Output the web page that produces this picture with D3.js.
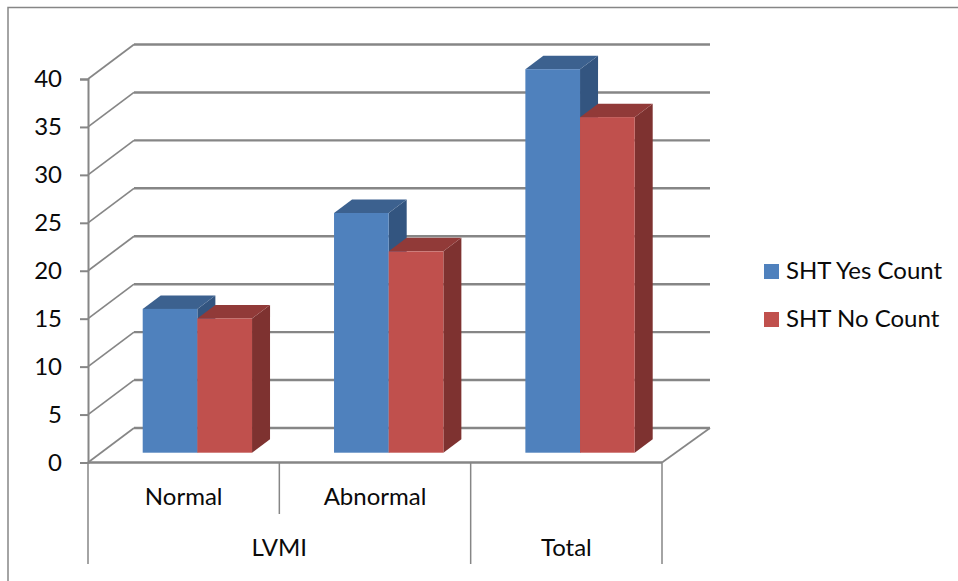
<!DOCTYPE html>
<html>
<head>
<meta charset="utf-8">
<script src="https://cdn.jsdelivr.net/npm/d3@7/dist/d3.min.js"></script>
<style>
  html, body { margin: 0; padding: 0; background: #fff; }
  svg { display: block; }
  text { font-family: Lato, "Open Sans", sans-serif; fill: #0a0a0a; }
</style>
</head>
<body>
<svg id="chart" width="958" height="581"></svg>
<script>
// Grouped 3-D column chart of SHT counts by LVMI group
const categories = ["Normal", "Abnormal", "Total"];
const seriesNames = ["SHT Yes Count", "SHT No Count"];
const yesCounts = [15, 25, 40];
const noCounts = [14, 21, 35];
const yTicks = [0, 5, 10, 15, 20, 25, 30, 35, 40];

const palette = {
  yes: { front: "#4f81bd", top: "#3c618f", side: "#335580" },
  no:  { front: "#c0504d", top: "#913a38", side: "#7e3230" }
};
const lineColor = "#868686";
const labelSize = 24;

const svg = d3.select("#chart");

// Front plane of the box and the oblique offsets of its depth
const y = d3.scaleLinear().domain([0, 40]).range([462.5, 79]);
const x = d3.scaleBand().domain(categories).range([88, 662]).paddingInner(0).paddingOuter(0);
const wallDx = 46, wallDy = -34.5;      // depth of the floor and side wall
const barInsetDx = 13.7, barInsetDy = -9.8; // columns sit part way into the box
const barDepthDx = 18, barDepthDy = -13.5;  // depth of each column

const inner = d3.scaleBand().domain(seriesNames).range([0, x.bandwidth()]).paddingInner(0).paddingOuter(0.75);

// Frame around the chart area
svg.append("path")
  .attr("d", "M8,581V7.5H958")
  .attr("fill", "none").attr("stroke", lineColor).attr("stroke-width", 1.5);

const walls = svg.append("g").attr("fill", "none").attr("stroke", lineColor);

// Diagonals along the side wall
walls.selectAll("path.side").data(yTicks).join("path")
  .attr("class", "side")
  .attr("stroke-width", 1.7)
  .attr("d", d => `M88,${y(d)}L${88 + wallDx},${y(d) + wallDy}`);

// Back-wall gridlines
walls.selectAll("path.grid").data(yTicks).join("path")
  .attr("class", "grid")
  .attr("stroke-width", 2.4)
  .attr("d", d => `M${88 + wallDx},${y(d) + wallDy}H${662 + wallDx + 2}`);

// Right edge of the floor
walls.append("path")
  .attr("stroke-width", 1.7)
  .attr("d", `M662,${y(0)}L${662 + wallDx + 2},${y(0) + wallDy}`);

// Value axis
const yAxis = d3.axisLeft(y).tickValues(yTicks).tickSize(8).tickPadding(18).tickFormat(d3.format("d"));
const yG = svg.append("g").attr("transform", "translate(88,0)").call(yAxis);
yG.select(".domain").attr("stroke", lineColor).attr("stroke-width", 2);
yG.selectAll(".tick line").attr("stroke", lineColor).attr("stroke-width", 2);
yG.selectAll(".tick text").attr("font-size", labelSize).style("font-family", "Lato, 'Open Sans', sans-serif").attr("fill", "#0a0a0a");

// Columns: top and side faces first, then the front face
const rows = categories.map((c, i) => [
  { cat: c, series: seriesNames[0], value: yesCounts[i], colors: palette.yes },
  { cat: c, series: seriesNames[1], value: noCounts[i], colors: palette.no }
]);

const bars = svg.append("g");
rows.forEach(row => {
  const g = bars.append("g");
  g.selectAll("g.bar").data(row).join("g").attr("class", "bar").each(function (d) {
    const b = d3.select(this);
    const x0 = x(d.cat) + inner(d.series) + barInsetDx;
    const x1 = x0 + inner.bandwidth();
    const yTop = y(d.value) + barInsetDy;
    const yBase = y(0) + barInsetDy;
    b.append("path").attr("fill", d.colors.side)
      .attr("d", `M${x1},${yTop}l${barDepthDx},${barDepthDy}V${yBase + barDepthDy}L${x1},${yBase}Z`);
    b.append("path").attr("fill", d.colors.top)
      .attr("d", `M${x0},${yTop}l${barDepthDx},${barDepthDy}H${x1 + barDepthDx}L${x1},${yTop}Z`);
    b.append("rect").attr("fill", d.colors.front)
      .attr("x", x0).attr("y", yTop).attr("width", x1 - x0).attr("height", yBase - yTop);
  });
});

// Category axis with its two label levels
const axisY = y(0);
const level1Bottom = 514, level2Bottom = 564;
const cat = svg.append("g");
cat.append("line").attr("x1", 88).attr("x2", 662).attr("y1", axisY).attr("y2", axisY)
  .attr("stroke", lineColor).attr("stroke-width", 2.5);

const groupBreaks = [
  { at: x("Normal"), bottom: level2Bottom },
  { at: x("Abnormal"), bottom: level1Bottom },
  { at: x("Total"), bottom: level2Bottom },
  { at: x("Total") + x.bandwidth(), bottom: level2Bottom }
];
cat.selectAll("line.sep").data(groupBreaks).join("line")
  .attr("class", "sep")
  .attr("x1", d => d.at).attr("x2", d => d.at)
  .attr("y1", axisY).attr("y2", d => d.bottom)
  .attr("stroke", lineColor).attr("stroke-width", 1.5);

const axisLabels = [
  { text: "Normal", cx: x("Normal") + x.bandwidth() / 2, base: 505 },
  { text: "Abnormal", cx: x("Abnormal") + x.bandwidth() / 2, base: 505 },
  { text: "LVMI", cx: x("Abnormal"), base: 556 },
  { text: "Total", cx: x("Total") + x.bandwidth() / 2, base: 556 }
];
cat.selectAll("text").data(axisLabels).join("text")
  .attr("x", d => d.cx).attr("y", d => d.base)
  .attr("text-anchor", "middle").attr("font-size", labelSize)
  .text(d => d.text);

// Legend
const legend = svg.append("g").selectAll("g").data(seriesNames).join("g")
  .attr("transform", (d, i) => `translate(764,${264 + i * 48})`);
legend.append("rect").attr("width", 15).attr("height", 15)
  .attr("fill", (d, i) => i === 0 ? palette.yes.front : palette.no.front);
legend.append("text").attr("x", 22).attr("y", 15).attr("font-size", labelSize).text(d => d);
</script>
</body>
</html>
